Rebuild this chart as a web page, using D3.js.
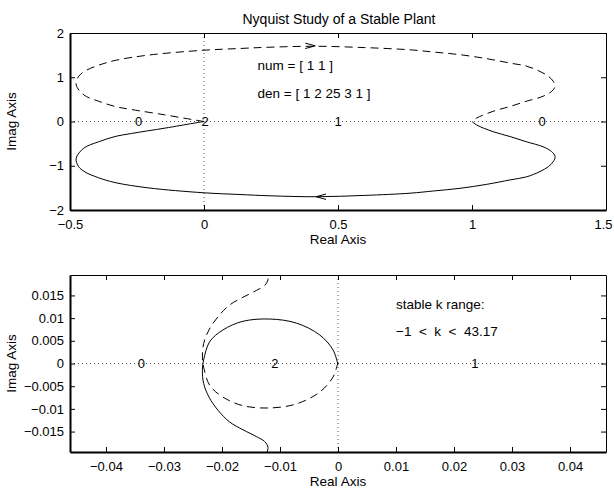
<!DOCTYPE html>
<html>
<head>
<meta charset="utf-8">
<script src="https://cdnjs.cloudflare.com/ajax/libs/d3/7.8.5/d3.min.js"></script>
<style>
body { margin: 0; background: #fff; }
text { font-family: "Liberation Sans", Arial, Helvetica, sans-serif; fill: #000; }
</style>
</head>
<body>
<script>
// ---- data ----
var titleText = "Nyquist Study of a Stable Plant";

// top plot
var topXTicks = [-0.5, 0, 0.5, 1, 1.5];
var topXTickLabels = ["\u22120.5", "0", "0.5", "1", "1.5"];
var topYTicks = [-2, -1, 0, 1, 2];
var topYTickLabels = ["\u22122", "\u22121", "0", "1", "2"];

// positive frequencies (solid), starting at w = 0
var topSolid = [[1.0, 0], [1.0175, -0.079], [1.079, -0.23], [1.142, -0.34], [1.204, -0.46], [1.265, -0.57],
  [1.297, -0.68], [1.31, -0.79], [1.303, -0.91], [1.285, -1.02], [1.254, -1.13], [1.204, -1.25],
  [1.142, -1.32], [1.055, -1.42], [0.955, -1.51], [0.856, -1.57], [0.769, -1.62], [0.6, -1.67],
  [0.42, -1.70], [0.25, -1.68], [0.134, -1.65], [-0.003, -1.61], [-0.208, -1.50], [-0.332, -1.38],
  [-0.394, -1.27], [-0.444, -1.14], [-0.469, -1.01], [-0.477, -0.83], [-0.448, -0.60], [-0.394, -0.46],
  [-0.332, -0.34], [-0.27, -0.27], [-0.146, -0.15], [-0.04, -0.04], [0, 0]];
// negative frequencies (dashed)
var topDashed = [[0, 0], [-0.04, 0.04], [-0.146, 0.15], [-0.27, 0.27], [-0.332, 0.34], [-0.394, 0.46],
  [-0.448, 0.60], [-0.477, 0.83], [-0.469, 1.01], [-0.444, 1.14], [-0.394, 1.27], [-0.332, 1.38],
  [-0.208, 1.50], [-0.003, 1.61], [0.134, 1.65], [0.25, 1.68], [0.42, 1.70], [0.6, 1.67], [0.769, 1.62],
  [0.856, 1.57], [0.955, 1.51], [1.055, 1.42], [1.142, 1.32], [1.204, 1.25], [1.254, 1.13], [1.285, 1.02],
  [1.303, 0.91], [1.31, 0.79], [1.297, 0.68], [1.265, 0.57], [1.204, 0.46], [1.142, 0.34], [1.079, 0.23],
  [1.0175, 0.079], [1.0, 0]];
// arrow heads: position and direction (+1 right, -1 left)
var topArrows = [{x: 0.415, y: 1.71, dir: 1}, {x: 0.418, y: -1.70, dir: -1}];
// encirclement counts on the real axis
var topCounts = [{x: -0.244, label: "0"}, {x: 0.004, label: "2"}, {x: 0.5, label: "1"}, {x: 1.262, label: "0"}];
var topNotes = [{x: 0.2, y: 1.28, label: "num = [ 1 1 ]"}, {x: 0.2, y: 0.64, label: "den = [ 1 2 25 3 1 ]"}];

// bottom plot (zoom near origin)
var botXTicks = [-0.04, -0.03, -0.02, -0.01, 0, 0.01, 0.02, 0.03, 0.04];
var botXTickLabels = ["\u22120.04", "\u22120.03", "\u22120.02", "\u22120.01", "0", "0.01", "0.02", "0.03", "0.04"];
var botYTicks = [-0.015, -0.01, -0.005, 0, 0.005, 0.01, 0.015];
var botYTickLabels = ["\u22120.015", "\u22120.01", "\u22120.005", "0", "0.005", "0.01", "0.015"];

var botSolid = [[-0.0124, -0.0215], [-0.01224, -0.0196], [-0.01207, -0.0185], [-0.01264, -0.0172],
  [-0.01407, -0.0161], [-0.01638, -0.0146], [-0.01867, -0.0129], [-0.02069, -0.0103], [-0.02224, -0.0074],
  [-0.02316, -0.0044], [-0.02338, -0.0014], [-0.02316, 0.0008], [-0.02212, 0.0048], [-0.01983, 0.0074],
  [-0.01638, 0.0093], [-0.01178, 0.0098], [-0.00717, 0.0089], [-0.00316, 0.0063], [-0.00086, 0.0030],
  [0, -0.0003]];
var botDashed = [[0, 0.0003], [-0.00086, -0.0030], [-0.00316, -0.0063], [-0.00717, -0.0089],
  [-0.01178, -0.0098], [-0.01638, -0.0093], [-0.01983, -0.0074], [-0.02212, -0.0048], [-0.02316, -0.0008],
  [-0.02338, 0.0014], [-0.02316, 0.0044], [-0.02224, 0.0074], [-0.02069, 0.0103], [-0.01867, 0.0129],
  [-0.01638, 0.0146], [-0.01407, 0.0161], [-0.01264, 0.0172], [-0.01207, 0.0185], [-0.01224, 0.0196],
  [-0.0124, 0.0215]];
var botCounts = [{x: -0.0339, label: "0"}, {x: -0.0109, label: "2"}, {x: 0.0236, label: "1"}];
var botNotes = [{x: 0.01, y: 0.013, label: "stable k range:"}, {x: 0.01, y: 0.0071, label: "\u22121  <  k  <  43.17"}];

// ---- drawing ----
var W = 614, H = 489;
var svg = d3.select("body").append("svg").attr("width", W).attr("height", H);

svg.append("text")
  .attr("x", 339).attr("y", 24)
  .attr("text-anchor", "middle")
  .style("font-size", "14px")
  .text(titleText);

function drawPanel(opt) {
  var x = d3.scaleLinear().domain(opt.xDomain).range([70, 606]);
  var y = d3.scaleLinear().domain(opt.yDomain).range([opt.bottom, opt.top]);
  var g = svg.append("g");
  var clipId = "clip" + opt.id;

  g.append("clipPath").attr("id", clipId)
    .append("rect")
    .attr("x", 70).attr("y", opt.top)
    .attr("width", 536).attr("height", opt.bottom - opt.top);

  // dotted real/imag axes
  g.append("line")
    .attr("x1", 70).attr("x2", 606).attr("y1", y(0)).attr("y2", y(0))
    .attr("stroke", "#555").attr("stroke-dasharray", "1,3");
  g.append("line")
    .attr("x1", x(0)).attr("x2", x(0)).attr("y1", opt.top).attr("y2", opt.bottom)
    .attr("stroke", "#555").attr("stroke-dasharray", "1,3");

  var line = d3.line()
    .x(function(d) { return x(d[0]); })
    .y(function(d) { return y(d[1]); })
    .curve(d3.curveCatmullRom.alpha(0.5));

  var curves = g.append("g").attr("clip-path", "url(#" + clipId + ")");
  curves.append("path").attr("d", line(opt.solid))
    .attr("fill", "none").attr("stroke", "#000").attr("stroke-width", 1);
  curves.append("path").attr("d", line(opt.dashed))
    .attr("fill", "none").attr("stroke", "#000").attr("stroke-width", 1)
    .attr("stroke-dasharray", "8,5");

  (opt.arrows || []).forEach(function(a) {
    var px = x(a.x), py = y(a.y);
    g.append("path")
      .attr("d", "M" + (px - a.dir * 10) + "," + (py - 2.7) + "L" + px + "," + py + "L" + (px - a.dir * 10) + "," + (py + 2.7))
      .attr("fill", "none").attr("stroke", "#000").attr("stroke-width", 1);
  });

  // count labels on the real axis
  g.selectAll(".count").data(opt.counts).enter().append("text")
    .attr("x", function(d) { return x(d.x); })
    .attr("y", y(0)).attr("dy", "0.36em")
    .attr("text-anchor", "middle")
    .style("font-size", "13px")
    .text(function(d) { return d.label; });

  g.selectAll(".note").data(opt.notes).enter().append("text")
    .attr("x", function(d) { return x(d.x); })
    .attr("y", function(d) { return y(d.y); })
    .attr("dy", "0.36em")
    .style("font-size", "13.5px")
    .style("white-space", "pre")
    .attr("xml:space", "preserve")
    .text(function(d) { return d.label; });

  // axes: ticks inward on all four sides
  var xb = d3.axisBottom(x).tickValues(opt.xTicks).tickSizeInner(-5).tickSizeOuter(0).tickPadding(10)
    .tickFormat(function(d, i) { return opt.xLabels[i]; });
  var yl = d3.axisLeft(y).tickValues(opt.yTicks).tickSizeInner(-5).tickSizeOuter(0).tickPadding(6)
    .tickFormat(function(d, i) { return opt.yLabels[i]; });
  var xt = d3.axisTop(x).tickValues(opt.xTicks).tickSizeInner(-5).tickSizeOuter(0).tickFormat("");
  var yr = d3.axisRight(y).tickValues(opt.yTicks).tickSizeInner(-5).tickSizeOuter(0).tickFormat("");

  var ax = g.append("g").attr("transform", "translate(0," + opt.bottom + ")").call(xb);
  var ay = g.append("g").attr("transform", "translate(70,0)").call(yl);
  var axt = g.append("g").attr("transform", "translate(0," + opt.top + ")").call(xt);
  var ayr = g.append("g").attr("transform", "translate(606,0)").call(yr);
  [ax, ay].forEach(function(a) {
    a.select(".domain").attr("stroke-width", 2);
  });
  [ax, ay, axt, ayr].forEach(function(a) {
    a.selectAll("text").style("font-size", "13px");
    a.attr("font-family", null).attr("font-size", null);
  });
  // keep the last x label inside the window
  ax.selectAll(".tick text").filter(function(d) { return x(d) > 600; }).attr("dx", -3);

  svg.append("text")
    .attr("x", 338).attr("y", opt.bottom + 34)
    .attr("text-anchor", "middle")
    .style("font-size", "13.5px")
    .text("Real Axis");
  svg.append("text")
    .attr("transform", "translate(16," + ((opt.top + opt.bottom) / 2) + ") rotate(-90)")
    .attr("text-anchor", "middle")
    .style("font-size", "13.5px")
    .text("Imag Axis");
}

drawPanel({
  id: "top", top: 33, bottom: 210,
  xDomain: [-0.5, 1.5], yDomain: [-2, 2],
  xTicks: topXTicks, xLabels: topXTickLabels, yTicks: topYTicks, yLabels: topYTickLabels,
  solid: topSolid, dashed: topDashed, arrows: topArrows, counts: topCounts, notes: topNotes
});

drawPanel({
  id: "bot", top: 275, bottom: 452,
  xDomain: [-0.0462, 0.0462], yDomain: [-0.0195, 0.0195],
  xTicks: botXTicks, xLabels: botXTickLabels, yTicks: botYTicks, yLabels: botYTickLabels,
  solid: botSolid, dashed: botDashed, arrows: [], counts: botCounts, notes: botNotes
});
</script>
</body>
</html>
